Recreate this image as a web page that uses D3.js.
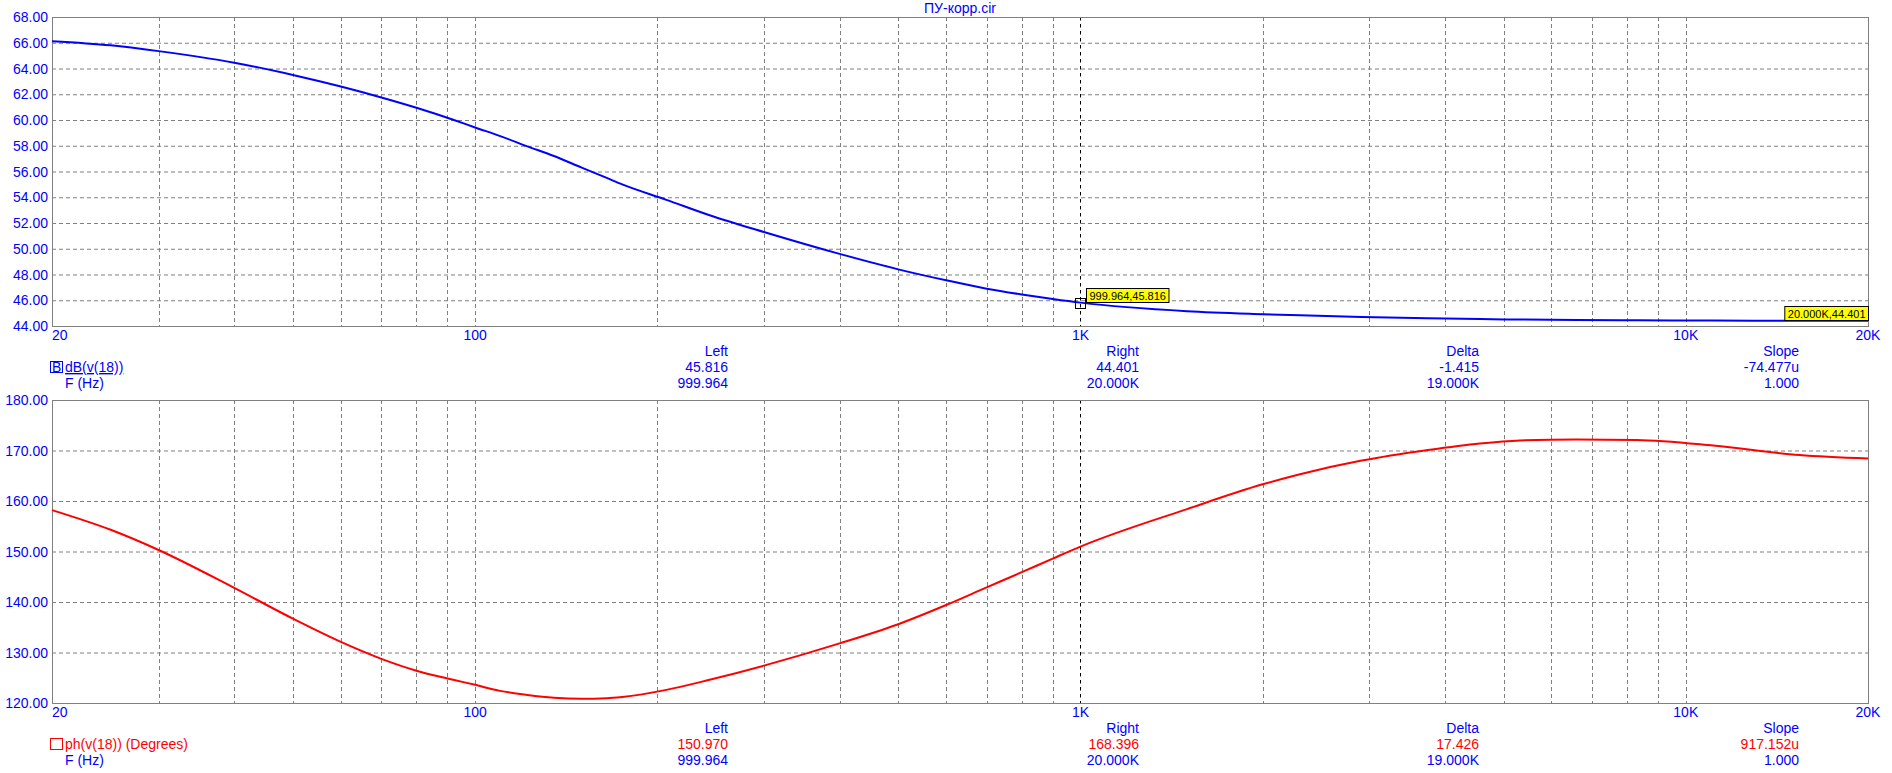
<!DOCTYPE html>
<html lang="ru">
<head>
  <meta charset="utf-8">
  <title>ПУ-корр.cir</title>
  <script src="https://d3js.org/d3.v7.min.js"></script>
  <style>
    body { margin: 0; background: #fff; }
    svg text { font-family: "Liberation Sans", Arial, sans-serif; font-size: 14px; }
  </style>
</head>
<body>
<svg id="chart" width="1892" height="773"></svg>
<script>
  // frequency points (Hz)
  const freqs = [20, 25, 30, 40, 50, 60, 70, 80, 92, 100, 110, 122, 135, 150, 165, 175, 207, 244, 300, 400, 500, 600, 700, 800, 900, 1000,
    1500, 2000, 2305, 2915, 3750, 4570, 5320, 6600, 8300, 11100, 15400, 20000];
  // dB(v(18))
  const magDb = [66.12, 65.8, 65.35, 64.45, 63.5, 62.6, 61.75, 60.95, 60.02, 59.42, 58.75, 57.95, 57.2, 56.3, 55.5, 55.0, 53.8, 52.6, 51.3, 49.6, 48.4,
    47.55, 46.9, 46.45, 46.1, 45.816, 45.15, 44.92, 44.83, 44.7, 44.6, 44.54, 44.5, 44.46, 44.44, 44.42, 44.41, 44.401];
  // ph(v(18)) in degrees
  const phaseDeg = [158.2, 154.3, 150.3, 142.8, 136.7, 132.1, 128.75, 126.4, 124.6, 123.6, 122.4, 121.6, 121.05, 120.85, 120.95, 121.2,
    122.6, 124.6, 127.4, 131.8, 135.6, 139.4, 142.9, 145.9, 148.6, 150.97, 158.4, 163.3, 165.3, 168.0, 170.1, 171.4, 172.0, 172.2,
    172.1, 171.0, 169.1, 168.396];

  const gridFreqs = [30, 40, 50, 60, 70, 80, 90, 100, 200, 300, 400, 500, 600, 700, 800, 900, 1000,
    2000, 3000, 4000, 5000, 6000, 7000, 8000, 9000, 10000];
  const xTickVals = [20, 100, 1000, 10000, 20000];
  const xTickLabels = ["20", "100", "1K", "10K", "20K"];
  const magTicks = [44, 46, 48, 50, 52, 54, 56, 58, 60, 62, 64, 66, 68];
  const phaseTicks = [120, 130, 140, 150, 160, 170, 180];

  const cursorFreqs = [999.964, 20000];
  const readoutHeads = ["Left", "Right", "Delta", "Slope"];
  const magReadout = ["45.816", "44.401", "-1.415", "-74.477u"];
  const phaseReadout = ["150.970", "168.396", "17.426", "917.152u"];
  const freqReadout = ["999.964", "20.000K", "19.000K", "1.000"];
  const magTips = ["999.964,45.816", "20.000K,44.401"];
  const magCursorVals = [45.816, 44.401];

  const BLUE = "#0000ff", RED = "#ff0000", GRID = "#808080";
  const svg = d3.select("#chart");
  const left = 52, right = 1868;
  const x = d3.scaleLog().domain([20, 20000]).range([left, right]);
  const readoutX = [728, 1139, 1479, 1799];

  svg.append("text").attr("x", 960).attr("y", 13).attr("text-anchor", "middle")
    .attr("fill", BLUE).text("ПУ-корр.cir");

  function panel(y0, y1, domain, ticks, values, color, readout, legend) {
    const y = d3.scaleLinear().domain(domain).range([y1, y0]);
    const g = svg.append("g");

    g.selectAll(".hg").data(ticks).join("line")
      .attr("x1", left).attr("x2", right)
      .attr("y1", d => y(d) + 0.5).attr("y2", d => y(d) + 0.5)
      .attr("stroke", GRID).attr("stroke-dasharray", "4,3");
    g.selectAll(".vg").data(gridFreqs).join("line")
      .attr("x1", d => Math.round(x(d)) + 0.5).attr("x2", d => Math.round(x(d)) + 0.5)
      .attr("y1", y0).attr("y2", y1)
      .attr("stroke", GRID).attr("stroke-dasharray", "4,3");
    // left cursor line
    g.append("line")
      .attr("x1", Math.round(x(cursorFreqs[0])) + 0.5).attr("x2", Math.round(x(cursorFreqs[0])) + 0.5)
      .attr("y1", y0).attr("y2", y1)
      .attr("stroke", "#000").attr("stroke-dasharray", "3,4");

    g.append("rect").attr("x", left + 0.5).attr("y", y0 + 0.5)
      .attr("width", right - left).attr("height", y1 - y0)
      .attr("fill", "none").attr("stroke", GRID);

    g.selectAll(".yl").data(ticks).join("text")
      .attr("x", 48).attr("y", d => y(d) + 5).attr("text-anchor", "end")
      .attr("fill", BLUE).text(d => d.toFixed(2));

    g.selectAll(".xl").data(xTickVals).join("text")
      .attr("x", d => x(d)).attr("y", y1 + 14)
      .attr("text-anchor", (d, i) => i === 0 ? "start" : "middle")
      .attr("fill", BLUE).text((d, i) => xTickLabels[i]);

    const line = d3.line().x((d, i) => x(freqs[i])).y(d => y(d)).curve(d3.curveMonotoneX);
    g.append("path").datum(values).attr("d", line)
      .attr("fill", "none").attr("stroke", color).attr("stroke-width", 2);

    // readout block
    g.selectAll(".rh").data(readoutHeads).join("text")
      .attr("x", (d, i) => readoutX[i]).attr("y", y1 + 30).attr("text-anchor", "end")
      .attr("fill", BLUE).text(d => d);
    g.selectAll(".rv").data(readout).join("text")
      .attr("x", (d, i) => readoutX[i]).attr("y", y1 + 46).attr("text-anchor", "end")
      .attr("fill", color).text(d => d);
    g.selectAll(".rf").data(freqReadout).join("text")
      .attr("x", (d, i) => readoutX[i]).attr("y", y1 + 62).attr("text-anchor", "end")
      .attr("fill", BLUE).text(d => d);

    g.append("rect").attr("x", 50.5).attr("y", y1 + 35.5).attr("width", 12).attr("height", 11)
      .attr("fill", "none").attr("stroke", color);
    if (legend.mark) {
      g.append("text").attr("x", 52).attr("y", y1 + 46).attr("fill", BLUE).text(legend.mark);
    }
    g.append("text").attr("x", 65).attr("y", y1 + 46).attr("fill", color)
      .attr("text-decoration", legend.underline ? "underline" : null).text(legend.name);
    g.append("text").attr("x", 65).attr("y", y1 + 62).attr("fill", BLUE).text("F (Hz)");
    return { g, y };
  }

  const magPanel = panel(17, 326, [44, 68], magTicks, magDb, BLUE, magReadout,
    { mark: "B", name: "dB(v(18))", underline: true });
  panel(400, 703, [120, 180], phaseTicks, phaseDeg, RED, phaseReadout,
    { mark: null, name: "ph(v(18)) (Degrees)", underline: false });

  // cursor marker and tips on the magnitude plot
  const cx = x(cursorFreqs[0]), cy = magPanel.y(magCursorVals[0]);
  magPanel.g.append("rect").attr("x", Math.round(cx) - 4.5).attr("y", Math.round(cy) - 4.5)
    .attr("width", 10).attr("height", 10).attr("fill", "none").attr("stroke", "#000");

  cursorFreqs.forEach((f, i) => {
    const px = x(f), py = magPanel.y(magCursorVals[i]);
    const tip = magPanel.g.append("g");
    const t = tip.append("text").attr("y", 0).attr("fill", "#000")
      .style("font-size", "11px").text(magTips[i]);
    const w = t.node().getComputedTextLength() + 6;
    let bx = Math.round(px) + 6;
    if (bx + w > right) bx = right - w;
    const by = Math.round(py) - 15;
    tip.insert("rect", "text").attr("x", bx + 0.5).attr("y", by + 0.5)
      .attr("width", w).attr("height", 14).attr("fill", "#ffff00").attr("stroke", "#000");
    t.attr("x", bx + 3.5).attr("y", by + 11.5);
  });
</script>
</body>
</html>
